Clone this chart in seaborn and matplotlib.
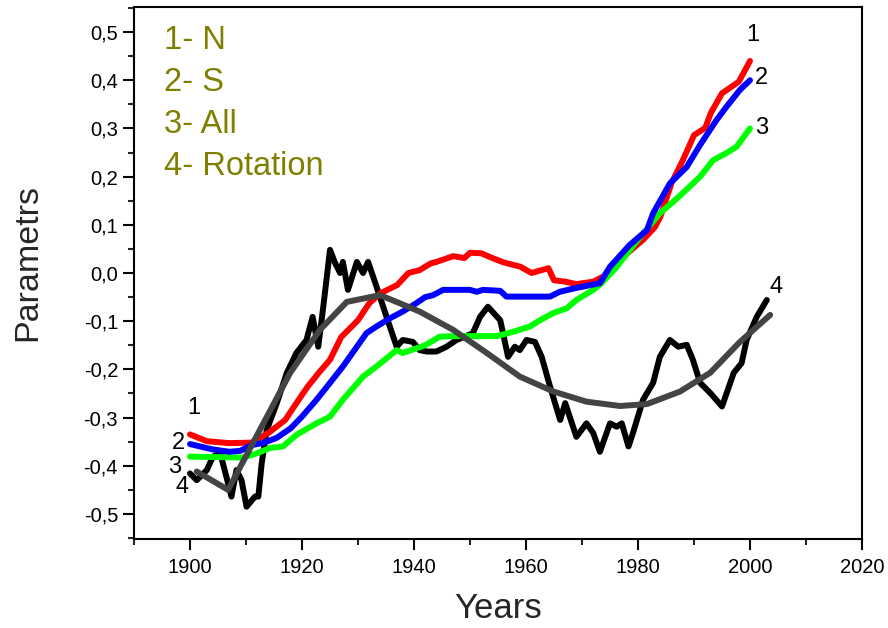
import numpy as np
import pandas as pd
import matplotlib
matplotlib.use("Agg")
import matplotlib.pyplot as plt
from matplotlib.ticker import MultipleLocator, FuncFormatter
import seaborn as sns

# ---- data ----
years_N = [1900, 1903, 1907, 1911, 1914, 1917, 1919, 1921, 1923, 1925, 1927, 1930, 1932, 1934,
           1937, 1939, 1941, 1943, 1944, 1947, 1949, 1950, 1952, 1954, 1956, 1959, 1961, 1964,
           1965, 1967, 1969, 1972, 1974, 1976, 1978, 1981, 1983, 1984, 1986, 1988, 1990, 1992,
           1993, 1995, 1998, 2000]
vals_N = [-0.335, -0.349, -0.353, -0.352, -0.332, -0.305, -0.27, -0.236, -0.207, -0.18, -0.133,
          -0.098, -0.063, -0.042, -0.025, 0.0, 0.006, 0.02, 0.023, 0.035, 0.031, 0.042, 0.041,
          0.031, 0.022, 0.013, 0.0, 0.01, -0.015, -0.018, -0.023, -0.018, -0.006, 0.02, 0.04,
          0.07, 0.095, 0.117, 0.187, 0.234, 0.286, 0.301, 0.332, 0.373, 0.397, 0.44]

years_S = [1900, 1904, 1907, 1909, 1911, 1913, 1915.5, 1918, 1920, 1922.6, 1925, 1927.3, 1929.8,
           1931.5, 1933.3, 1935.7, 1938, 1940.5, 1942, 1943.4, 1945.2, 1950, 1951.2, 1952.3,
           1955.4, 1956.5, 1964.3, 1966, 1969, 1973.2, 1975, 1978.5, 1981.6, 1982.7, 1985.7,
           1988.7, 1991.1, 1994, 1995.8, 1998.2, 2000]
vals_S = [-0.355, -0.366, -0.371, -0.369, -0.357, -0.353, -0.342, -0.322, -0.298, -0.263, -0.228,
          -0.194, -0.153, -0.125, -0.111, -0.094, -0.08, -0.062, -0.05, -0.046, -0.035, -0.035,
          -0.039, -0.035, -0.037, -0.049, -0.049, -0.039, -0.031, -0.021, 0.013, 0.058, 0.089,
          0.124, 0.186, 0.22, 0.266, 0.317, 0.345, 0.38, 0.40]

years_All = [1900, 1909.5, 1912, 1914.3, 1916.6, 1919, 1922.6, 1925, 1927.3, 1930.9, 1933.3,
             1936.9, 1938, 1940.5, 1942, 1944.6, 1947, 1954.8, 1957.7, 1960.7, 1962.5, 1964.9,
             1967.3, 1969, 1972, 1973.5, 1976, 1979.5, 1983.9, 1986.3, 1988, 1991.1, 1993.4,
             1995.8, 1997.6, 2000]
vals_All = [-0.381, -0.383, -0.374, -0.363, -0.36, -0.336, -0.312, -0.298, -0.263, -0.215, -0.194,
            -0.16, -0.166, -0.156, -0.15, -0.132, -0.131, -0.131, -0.122, -0.111, -0.098, -0.083,
            -0.073, -0.056, -0.035, -0.021, 0.01, 0.062, 0.124, 0.148, 0.166, 0.2, 0.234, 0.249,
            0.262, 0.30]

years_Rot = [1900, 1901.2, 1903, 1904.1, 1905.4, 1906.5, 1907.4, 1908.3, 1909.2, 1910.1, 1911.6,
             1912.2, 1912.8, 1913.7, 1915.5, 1917.3, 1919, 1920.8, 1921.9, 1922.9, 1923.8, 1925,
             1925.9, 1926.8, 1927.3, 1928.2, 1929.8, 1930.9, 1931.8, 1933.3, 1935.1, 1936.9, 1938,
             1939.8, 1941, 1942.3, 1944, 1945.8, 1947.6, 1950.5, 1951.8, 1953.2, 1955.4, 1956.8,
             1958, 1958.9, 1960.1, 1961.6, 1962.8, 1964.3, 1966.1, 1967, 1969, 1970.8, 1972,
             1973.2, 1975, 1976.2, 1977.1, 1978.3, 1979.1, 1980.9, 1982.7, 1983.9, 1985.7, 1987.2,
             1988.7, 1989.8, 1991.1, 1992.9, 1995, 1997.1, 1998.5, 1999.4, 2001.2, 2003]
vals_Rot = [-0.416, -0.43, -0.409, -0.381, -0.374, -0.423, -0.464, -0.409, -0.43, -0.485, -0.464,
            -0.464, -0.395, -0.326, -0.27, -0.207, -0.166, -0.139, -0.091, -0.153, -0.07, 0.048,
            0.021, 0.0, 0.023, -0.035, 0.023, 0.0, 0.023, -0.028, -0.091, -0.153, -0.139, -0.143,
            -0.16, -0.163, -0.163, -0.153, -0.139, -0.125, -0.091, -0.07, -0.098, -0.174, -0.153,
            -0.16, -0.139, -0.143, -0.174, -0.236, -0.305, -0.27, -0.34, -0.312, -0.332, -0.371,
            -0.312, -0.319, -0.312, -0.36, -0.332, -0.263, -0.228, -0.174, -0.139, -0.153, -0.149,
            -0.18, -0.228, -0.249, -0.277, -0.207, -0.187, -0.139, -0.091, -0.056]

years_Fit = [1901.2, 1906.8, 1917.9, 1923.2, 1928, 1933.9, 1936.9, 1941, 1947, 1953, 1958.9,
             1964.9, 1970.8, 1976.8, 1981.6, 1987.5, 1992.9, 1998.2, 2003.6]
vals_Fit = [-0.412, -0.45, -0.207, -0.118, -0.06, -0.046, -0.06, -0.08, -0.118, -0.166, -0.215,
            -0.246, -0.267, -0.276, -0.272, -0.246, -0.207, -0.143, -0.087]

legend_lines = ["1- N", "2- S", "3- All", "4- Rotation"]
x_label = "Years"
y_label = "Parametrs"

# ---- figure ----
sns.set_style("ticks")
plt.rcParams["font.family"] = ["Liberation Sans", "DejaVu Sans"]

fig = plt.figure(figsize=(8.88, 6.28), dpi=100)
ax = fig.add_axes([134 / 888, 1 - 539 / 628, 728 / 888, 532 / 628])

LW = 4.3
common = dict(ax=ax, estimator=None, sort=False, linewidth=LW,
              solid_capstyle="round", solid_joinstyle="round")

df_rot = pd.DataFrame({"year": years_Rot, "value": vals_Rot})
df_N = pd.DataFrame({"year": years_N, "value": vals_N})
df_S = pd.DataFrame({"year": years_S, "value": vals_S})
df_A = pd.DataFrame({"year": years_All, "value": vals_All})
df_F = pd.DataFrame({"year": years_Fit, "value": vals_Fit})

sns.lineplot(data=df_rot, x="year", y="value", color="#000000", zorder=2, **common)
sns.lineplot(data=df_N, x="year", y="value", color="#ff0000", zorder=3, **common)
sns.lineplot(data=df_A, x="year", y="value", color="#00ff00", zorder=4, **common)
sns.lineplot(data=df_S, x="year", y="value", color="#0000ff", zorder=5, **common)
sns.lineplot(data=df_F, x="year", y="value", color="#444444", zorder=6, **common)

ax.set_xlim(1890, 2020)
ax.set_ylim(-0.552, 0.552)

ax.xaxis.set_major_locator(MultipleLocator(20))
ax.xaxis.set_minor_locator(MultipleLocator(10))
ax.yaxis.set_major_locator(MultipleLocator(0.1))
ax.yaxis.set_minor_locator(MultipleLocator(0.05))
ax.yaxis.set_major_formatter(FuncFormatter(lambda v, p: f"{v:.1f}".replace(".", ",").replace("-0,0", "0,0")))

ax.tick_params(axis="both", which="major", direction="out", length=8, width=1.5,
               labelsize=14.5, colors="black", top=False, right=False)
ax.tick_params(axis="x", which="major", pad=6)
ax.tick_params(axis="both", which="minor", direction="out", length=4.5, width=1.5,
               top=False, right=False)
for s in ax.spines.values():
    s.set_visible(True)
    s.set_linewidth(1.5)
    s.set_color("black")

ax.set_xlabel(x_label, fontsize=25)
ax.set_ylabel(y_label, fontsize=24.5)
ax.xaxis.set_label_coords(0.5, -0.1)
ax.yaxis.set_label_coords(-0.125, 0.52)

# legend-like text block
legend_y = [0.921, 0.842, 0.763, 0.684]
for txt, yy in zip(legend_lines, legend_y):
    ax.text(0.041, yy, txt, transform=ax.transAxes, fontsize=23.5, color="#808000",
            ha="left", va="baseline")

# series number labels
num_fs = 17
left_labels = [("1", 1900.6, -0.28), ("2", 1897.9, -0.353), ("3", 1897.3, -0.402), ("4", 1898.6, -0.444)]
right_labels = [("1", 2000.5, 0.494), ("2", 2002.1, 0.405), ("3", 2002.1, 0.30), ("4", 2004.6, -0.03)]
for t, x, y in left_labels + right_labels:
    ax.text(x, y, t, fontsize=num_fs, color="black", ha="center", va="center", zorder=10)

fig.savefig("out.png", dpi=100)
